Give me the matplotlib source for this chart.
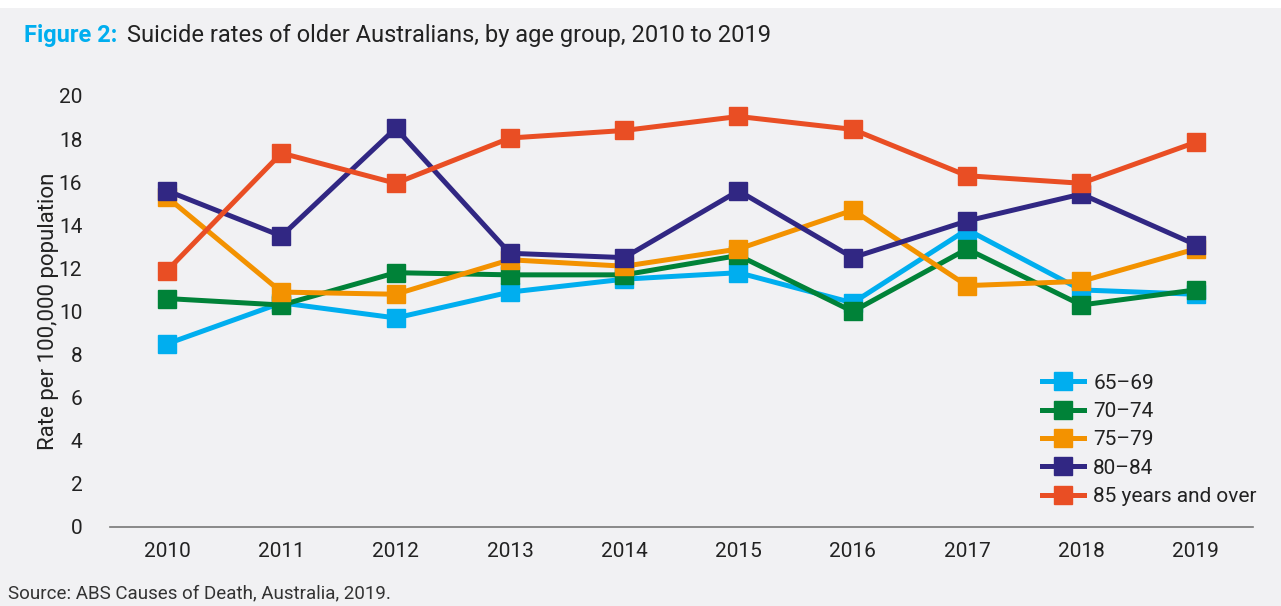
import matplotlib.pyplot as plt
from matplotlib.patches import Rectangle

plt.rcParams['font.family'] = ['Roboto', 'DejaVu Sans']

years = ['2010', '2011', '2012', '2013', '2014', '2015', '2016', '2017', '2018', '2019']
groups = ['65\u201369', '70\u201374', '75\u201379', '80\u201384', '85 years and over']
rate_65_69 = [8.5, 10.4, 9.7, 10.9, 11.5, 11.8, 10.4, 13.8, 11.0, 10.8]
rate_70_74 = [10.6, 10.3, 11.8, 11.7, 11.7, 12.6, 10.0, 12.9, 10.3, 11.0]
rate_75_79 = [15.3, 10.9, 10.8, 12.4, 12.1, 12.9, 14.7, 11.2, 11.4, 12.9]
rate_80_84 = [15.6, 13.5, 18.5, 12.7, 12.5, 15.6, 12.5, 14.2, 15.45, 13.1]
rate_85_plus = [11.9, 17.35, 15.95, 18.05, 18.4, 19.05, 18.45, 16.3, 15.95, 17.85]
colors = ['#00AEEF', '#008238', '#F39200', '#312783', '#E94E24']

bg = '#F1F1F3'
fig = plt.figure(figsize=(12.81, 6.06), dpi=100, facecolor=bg)
fig.patches.append(Rectangle((0, 0.987), 1, 0.013, transform=fig.transFigure,
                             facecolor='white', edgecolor='none'))
ax = fig.add_axes([0.0859, 0.1304, 0.892, 0.7112], facecolor=bg)

series = [rate_65_69, rate_70_74, rate_75_79, rate_80_84, rate_85_plus]
x = list(range(len(years)))
for vals, name, c in zip(series, groups, colors):
    ax.plot(x, vals, color=c, lw=3.6, marker='s', markersize=12.5, label=name)

ax.set_xlim(-0.5, 9.5)
ax.set_ylim(0, 20)
ax.set_xticks(x)
ax.set_xticklabels(years)
ax.set_yticks(range(0, 21, 2))
for s in ['top', 'right', 'left']:
    ax.spines[s].set_visible(False)
ax.spines['bottom'].set_color('#777777')
ax.spines['bottom'].set_linewidth(1.2)
ax.tick_params(axis='both', length=0, labelsize=15, colors='#222222')
ax.tick_params(axis='x', pad=11)
ax.tick_params(axis='y', pad=20)
ax.set_ylabel('Rate per 100,000 population', fontsize=16, color='#222222', labelpad=0)

leg = ax.legend(loc='lower right', bbox_to_anchor=(1.02, 0.005), frameon=False,
                fontsize=15, handlelength=2.0, labelspacing=0.45, handletextpad=0.45)
for t in leg.get_texts():
    t.set_color('#222222')

fig.text(0.019, 0.942, 'Figure 2:', fontsize=17, color='#00AEEF', fontweight='bold', va='center')
fig.text(0.099, 0.942, 'Suicide rates of older Australians, by age group, 2010 to 2019',
         fontsize=17, color='#222222', va='center')
fig.text(0.006, 0.021, 'Source: ABS Causes of Death, Australia, 2019.', fontsize=13.5,
         color='#333333', va='center')

fig.savefig('out.png', dpi=100, facecolor=bg)
